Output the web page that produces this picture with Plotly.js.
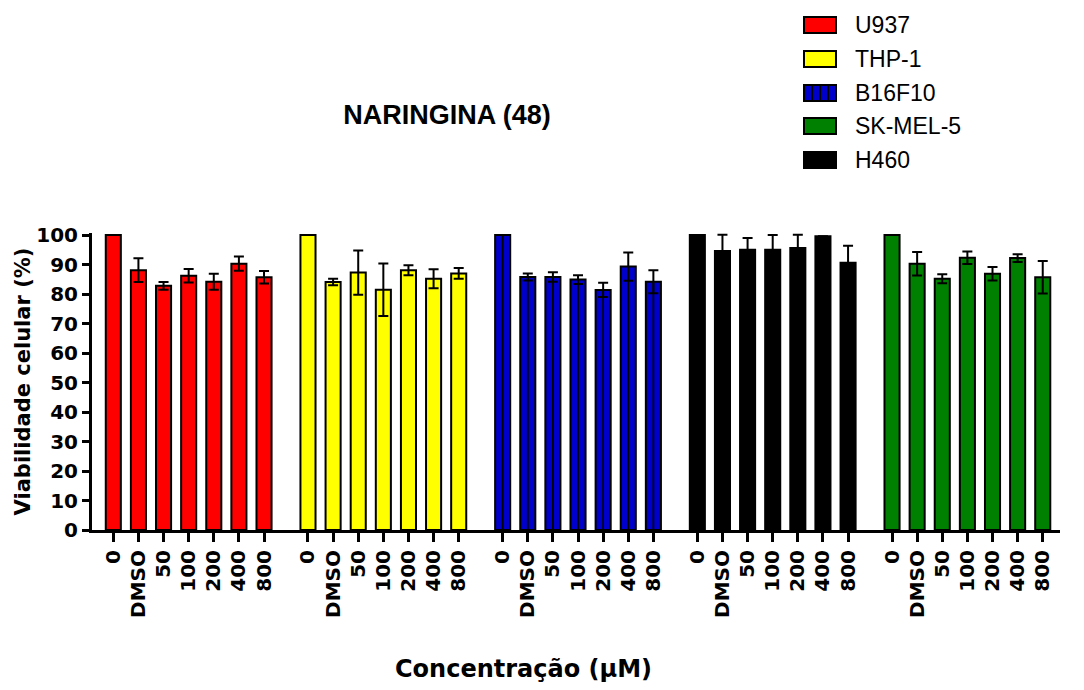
<!DOCTYPE html>
<html>
<head>
<meta charset="utf-8">
<script src="https://cdn.plot.ly/plotly-3.0.1.min.js"></script>
<style>html,body{margin:0;padding:0;background:#fff}</style>
</head>
<body>
<div id="chart" style="width:1084px;height:690px"></div>
<script>
// ---- data ----
const cellLines = ['U937', 'THP-1', 'B16F10', 'H460', 'SK-MEL-5'];
const legendOrder = ['U937', 'THP-1', 'B16F10', 'SK-MEL-5', 'H460'];
const colors = ['#FF0000', '#FFFF00', '#0000CC', '#000000', '#008000'];
const concentrations = ['0', 'DMSO', '50', '100', '200', '400', '800'];

const u937 = [100, 88.1, 82.8, 86.2, 84.2, 90.3, 85.7];
const u937Err = [0, 4.0, 1.3, 2.3, 2.7, 2.4, 2.1];
const thp1 = [100, 84.1, 87.3, 81.5, 88.1, 85.2, 87.0];
const thp1Err = [0, 1.1, 7.5, 8.9, 1.7, 3.2, 1.8];
const b16f10 = [100, 85.8, 85.8, 84.9, 81.4, 89.3, 84.2];
const b16f10Err = [0, 1.2, 1.6, 1.5, 2.4, 4.8, 3.9];
const h460 = [100, 94.6, 95.0, 95.0, 95.6, 99.6, 90.6];
const h460Err = [0, 5.5, 4.0, 5.0, 4.5, 0, 5.8];
const skmel5 = [100, 90.3, 85.2, 92.3, 86.9, 92.2, 85.7];
const skmel5Err = [0, 4.0, 1.5, 2.1, 2.3, 1.3, 5.5];

const values = [u937, thp1, b16f10, h460, skmel5];
const errors = [u937Err, thp1Err, b16f10Err, h460Err, skmel5Err];
const yTicks = [0, 10, 20, 30, 40, 50, 60, 70, 80, 90, 100];

// ---- layout helpers ----
const GROUP_STEP = 7.75;
const Y_MAX = 100.7;
const L = 92, R = 1060, B = 530, T = 530 - 295 * Y_MAX / 100;
const px = x => (x - L) / (R - L);
const py = y => (B - y) / (B - T);

const traces = [];
const tickvals = [], ticktext = [];
cellLines.forEach((name, g) => {
  const xs = concentrations.map((c, i) => g * GROUP_STEP + i);
  xs.forEach((x, i) => { tickvals.push(x); ticktext.push(concentrations[i]); });
  traces.push({
    type: 'bar', name: name, x: xs, y: values[g], width: 0.6, cliponaxis: false,
    marker: { color: colors[g], line: { color: '#000', width: 2 } },
    error_y: { type: 'data', array: errors[g], visible: true, color: '#000', thickness: 2, width: 5 },
    showlegend: false, hoverinfo: 'x+y'
  });
  if (name === 'B16F10') {
    // vertical hatch line in the middle of each B16F10 bar
    traces.push({
      type: 'bar', name: name + ' hatch', x: xs, y: values[g], width: 0.07, cliponaxis: false,
      marker: { color: '#000', line: { width: 0 } },
      showlegend: false, hoverinfo: 'skip'
    });
  }
});

// ---- custom legend ----
const shapes = [], annotations = [];
const legendRowY = [25, 59, 93, 126, 160];
legendOrder.forEach((name, k) => {
  const g = cellLines.indexOf(name);
  const cy = legendRowY[k];
  shapes.push({
    type: 'rect', xref: 'paper', yref: 'paper',
    x0: px(804), x1: px(836), y0: py(cy - 8), y1: py(cy + 8),
    fillcolor: colors[g], line: { color: '#000', width: 2 }
  });
  if (name === 'B16F10') {
    [812, 820, 828].forEach(lx => shapes.push({
      type: 'line', xref: 'paper', yref: 'paper',
      x0: px(lx), x1: px(lx), y0: py(cy - 8), y1: py(cy + 8),
      line: { color: '#000', width: 2 }
    }));
  }
  annotations.push({
    xref: 'paper', yref: 'paper', x: px(853), y: py(cy), xanchor: 'left', yanchor: 'middle',
    text: name, showarrow: false,
    font: { family: 'Liberation Sans, Arial, sans-serif', size: 23, color: '#000' }
  });
});

annotations.push({
  xref: 'paper', yref: 'paper', x: px(523), y: py(669), xanchor: 'center', yanchor: 'middle',
  text: 'Concentração (μM)', showarrow: false,
  font: { family: 'DejaVu Sans, sans-serif', size: 24, weight: 'bold', color: '#000' }
});

const tickFont = { family: 'DejaVu Sans, sans-serif', size: 20, weight: 'bold', color: '#000' };

const layout = {
  width: 1084, height: 690,
  margin: { l: L, r: 1084 - R, t: T, b: 690 - B, pad: 0 },
  paper_bgcolor: '#fff', plot_bgcolor: '#fff',
  barmode: 'overlay',
  showlegend: false,
  title: {
    text: 'NARINGINA (48)', xref: 'container', yref: 'container',
    x: 447 / 1084, xanchor: 'center', y: 1 - 115 / 690, yanchor: 'middle',
    font: { family: 'Liberation Sans, Arial, sans-serif', size: 27, weight: 'bold', color: '#000' }
  },
  xaxis: {
    range: [-0.848, -0.848 + (R - L) / 25.12],
    tickmode: 'array', tickvals: tickvals, ticktext: ticktext, tickangle: -90,
    showline: true, linecolor: '#000', linewidth: 3,
    ticks: 'outside', ticklen: 9, tickwidth: 3, tickcolor: '#000',
    showgrid: false, zeroline: false, tickfont: tickFont, fixedrange: true
  },
  yaxis: {
    range: [0, Y_MAX], tickmode: 'array', tickvals: yTicks, ticktext: yTicks.map(String),
    showline: true, linecolor: '#000', linewidth: 3,
    ticks: 'outside', ticklen: 7, tickwidth: 3, tickcolor: '#000',
    showgrid: false, zeroline: false, tickfont: tickFont, fixedrange: true,
    title: { text: 'Viabilidade celular (%)', standoff: 0,
      font: { family: 'DejaVu Sans, sans-serif', size: 21, weight: 'bold', color: '#000' } }
  },
  shapes: shapes,
  annotations: annotations
};

Plotly.newPlot('chart', traces, layout, { displayModeBar: false, staticPlot: true });
</script>
</body>
</html>
